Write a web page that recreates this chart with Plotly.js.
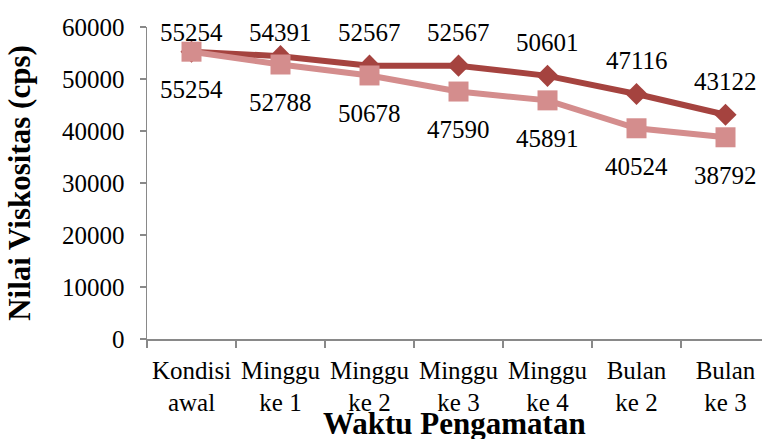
<!DOCTYPE html>
<html>
<head>
<meta charset="utf-8">
<script src="https://cdn.plot.ly/plotly-3.0.1.min.js"></script>
<style>html,body{margin:0;padding:0;background:#fff;}#chart{width:762px;height:439px;}</style>
</head>
<body>
<div id="chart"></div>
<script>
const categories = ["Kondisi<br>awal", "Minggu<br>ke 1", "Minggu<br>ke 2", "Minggu<br>ke 3", "Minggu<br>ke 4", "Bulan<br>ke 2", "Bulan<br>ke 3"];
const seriesA = [55254, 54391, 52567, 52567, 50601, 47116, 43122];
const seriesB = [55254, 52788, 50678, 47590, 45891, 40524, 38792];
const yTicks = [0, 10000, 20000, 30000, 40000, 50000, 60000];
const xTitle = "Waktu Pengamatan";
const yTitle = "Nilai Viskositas (cps)";

const FONT = "'Liberation Serif', 'Times New Roman', serif";
const darkRed = "#A5433F";
const pink = "#D48D8D";

const traces = [
  {x: categories, y: seriesA, type: "scatter", mode: "lines+markers",
   line: {color: darkRed, width: 6}, marker: {symbol: "diamond", size: 17, color: darkRed},
   hoverinfo: "skip", showlegend: false},
  {x: categories, y: seriesB, type: "scatter", mode: "lines+markers",
   line: {color: pink, width: 6}, marker: {symbol: "square", size: 20, color: pink},
   hoverinfo: "skip", showlegend: false}
];

const annotations = [];
categories.forEach((c, i) => {
  annotations.push({x: c, y: Math.min(seriesA[i] + 6350, 58850), xref: "x", yref: "y",
    text: String(seriesA[i]), showarrow: false, font: {family: FONT, size: 25, color: "#000"}});
  annotations.push({x: c, y: seriesB[i], xref: "x", yref: "y", yshift: -38,
    text: String(seriesB[i]), showarrow: false, font: {family: FONT, size: 25, color: "#000"}});
});
annotations.push({x: 0.5, y: 0, xref: "paper", yref: "paper", xanchor: "center", yanchor: "top",
  yshift: -65, text: xTitle, showarrow: false,
  font: {family: FONT, size: 31, color: "#000", weight: "bold"}});

const layout = {
  width: 762, height: 439,
  margin: {l: 147, r: 0, t: 27, b: 100},
  paper_bgcolor: "#fff", plot_bgcolor: "#fff",
  font: {family: FONT, color: "#000"},
  xaxis: {
    type: "category", range: [-0.5, 6.41], showgrid: false, zeroline: false,
    showline: true, linecolor: "#898989", linewidth: 1.5, tickangle: 0,
    ticks: "outside", tickson: "boundaries", ticklen: 7, tickcolor: "#898989", tickwidth: 1.5,
    ticklabelstandoff: 8,
    tickfont: {family: FONT, size: 25, color: "#000"}
  },
  yaxis: {
    range: [0, 60000], tickvals: yTicks, ticktext: yTicks.map(String),
    showgrid: false, zeroline: false, automargin: true,
    showline: true, linecolor: "#898989", linewidth: 1.5,
    ticks: "outside", ticklen: 6, tickcolor: "#898989", tickwidth: 1.5,
    ticklabelstandoff: 10,
    tickfont: {family: FONT, size: 25, color: "#000"},
    title: {text: yTitle, standoff: 22, font: {family: FONT, size: 31, color: "#000", weight: "bold"}}
  },
  annotations: annotations
};

Plotly.newPlot("chart", traces, layout, {staticPlot: true, displayModeBar: false});
</script>
</body>
</html>
